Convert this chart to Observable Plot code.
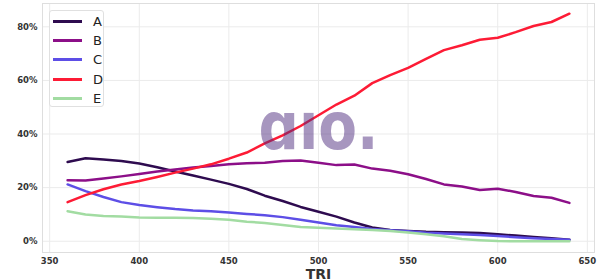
<!DOCTYPE html>
<html>
<head>
<meta charset="utf-8">
<script src="https://cdn.jsdelivr.net/npm/d3@7"></script>
<script src="https://cdn.jsdelivr.net/npm/@observablehq/plot@0.6"></script>
<style>
  html, body { margin: 0; padding: 0; background: #fff; }
  #wrap { position: relative; width: 600px; height: 280px; font-family: "DejaVu Sans", sans-serif; }
  #wrap svg { display: block; }
  g[aria-label="x-axis label"] text { font-size: 14px; font-weight: bold; fill: #333; }
  #legend { position: absolute; left: 49px; top: 10px; width: 55px; height: 97px; background: rgba(255,255,255,0.85);
            border: 1px solid #e0e0e0; border-radius: 3px; box-sizing: border-box; }
  .row { position: absolute; left: 0; height: 19px; display: flex; align-items: center; }
  .sw { width: 29px; height: 3px; margin-left: 3px; margin-right: 11px; }
  .lb { font-size: 13px; color: #222; }
</style>
</head>
<body>
<div id="wrap"></div>
<script>
const tri = [360,370,380,390,400,410,420,430,440,450,460,470,480,490,500,510,520,530,540,550,560,570,580,590,600,610,620,630,640];
const seriesNames = ["A","B","C","D","E"];
const seriesColors = ["#2e0b4f","#8c0f88","#5d4ee6","#fd1b35","#a2dca2"];
const A = [29.6,31.0,30.5,29.9,29.0,27.6,26.0,24.5,23.0,21.4,19.5,17.0,15.0,12.8,11.0,9.2,7.0,5.1,4.2,3.8,3.5,3.4,3.3,3.1,2.6,2.1,1.6,1.1,0.6];
const B = [22.8,22.7,23.4,24.2,25.1,26.0,26.8,27.5,28.1,28.7,29.1,29.3,29.9,30.1,29.3,28.4,28.6,27.1,26.3,25.0,23.2,21.2,20.4,19.1,19.6,18.4,16.9,16.2,14.3];
const C = [21.2,18.7,16.5,14.6,13.5,12.7,12.0,11.5,11.2,10.7,10.2,9.7,9.0,8.0,7.0,6.0,5.3,4.6,4.1,3.7,3.2,2.9,2.6,2.3,2.0,1.5,1.1,0.8,0.6];
const D = [14.6,17.2,19.4,21.2,22.5,24.0,25.6,27.1,28.7,30.8,33.1,36.5,39.5,43.0,47.0,51.0,54.3,59.0,62.0,64.7,68.0,71.3,73.1,75.2,75.9,78.0,80.3,81.8,84.9];
const E = [11.2,10.0,9.4,9.2,8.9,8.8,8.8,8.7,8.4,8.0,7.3,6.8,6.1,5.3,5.0,4.8,4.5,4.2,3.8,3.3,2.6,1.9,0.8,0.4,0.1,0.0,0.0,0.0,0.0];
const xTicks = [350,400,450,500,550,600,650];
const yTicks = [0,0.2,0.4,0.6,0.8];
const watermark = "ɑıo.";

const values = [A,B,C,D,E];
const data = [];
seriesNames.forEach((s,i) => tri.forEach((t,j) => data.push({tri:t, value: values[i][j]/100, series:s})));

const chart = Plot.plot({
  width: 600,
  height: 280,
  marginLeft: 42,
  marginRight: 6,
  marginTop: 3,
  marginBottom: 28,
  style: {fontFamily: "DejaVu Sans, sans-serif", fontSize: "8.5px", fontWeight: "bold", color: "#333", background: "#fff"},
  x: {domain: [346, 654], ticks: xTicks, tickSize: 0, tickPadding: 5, label: "TRI", labelAnchor: "center", labelOffset: 26, labelArrow: "none"},
  y: {domain: [-0.042, 0.887], ticks: yTicks, tickSize: 0, tickPadding: 5, tickFormat: d3.format(".0%"), label: null},
  color: {domain: seriesNames, range: seriesColors},
  marks: [
    Plot.gridX(xTicks, {stroke: "#ebebeb", strokeOpacity: 1, strokeWidth: 1}),
    Plot.gridY(yTicks, {stroke: "#ebebeb", strokeOpacity: 1, strokeWidth: 1}),
    Plot.frame({stroke: "#dedede"}),
    Plot.line(data, {x: "tri", y: "value", z: "series", stroke: "series", strokeWidth: 2.5}),
    Plot.text([watermark], {frameAnchor: "middle", text: d => d, fontSize: 66, fontWeight: "bold", fill: "#4f2d7f", fillOpacity: 0.5, fontFamily: "DejaVu Sans"})
  ]
});
document.getElementById("wrap").appendChild(chart);

// fit the watermark to its footprint
const wm = chart.querySelector('g[aria-label="text"] text');
if (wm) { wm.setAttribute("textLength", "120"); wm.setAttribute("lengthAdjust", "spacingAndGlyphs"); }

const legend = document.createElement("div");
legend.id = "legend";
seriesNames.forEach((s,i) => {
  const row = document.createElement("div");
  row.className = "row";
  row.style.top = (1 + i*19.2) + "px";
  row.innerHTML = `<div class="sw" style="background:${seriesColors[i]}"></div><span class="lb">${s}</span>`;
  legend.appendChild(row);
});
document.getElementById("wrap").appendChild(legend);
</script>
</body>
</html>
